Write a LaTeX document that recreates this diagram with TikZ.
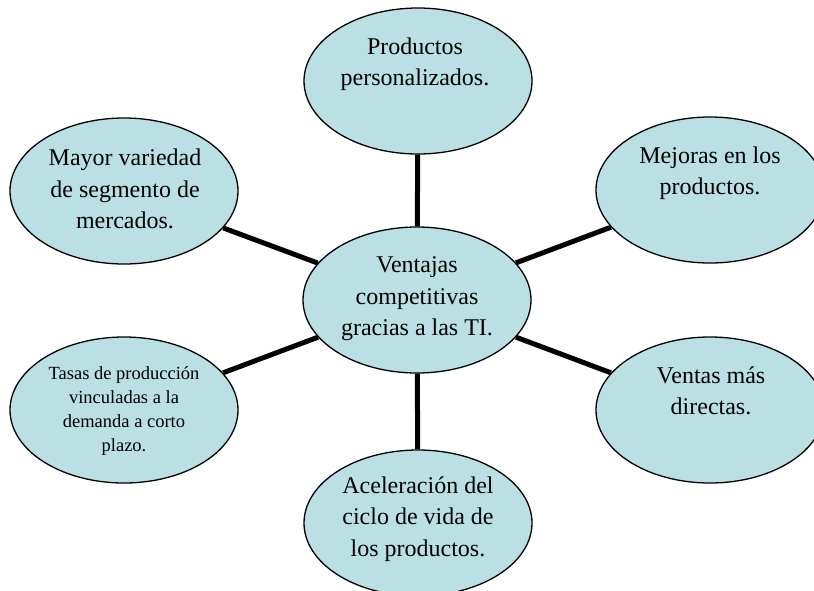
\documentclass[tikz,border=0pt]{standalone}
\usepackage{fontspec}
\setmainfont{Liberation Serif}
\usetikzlibrary{shapes.geometric,backgrounds}
\definecolor{bubble}{RGB}{186,224,227}
\tikzset{
  bubblebox/.style={ellipse, draw=black, line width=1.3pt, fill=bubble,
    minimum width=228pt, minimum height=146pt, inner sep=0pt},
  bigtext/.style={align=center, inner sep=0pt, font=\fontsize{24}{31.5}\selectfont},
  smalltext/.style={align=center, inner sep=0pt, font=\fontsize{18.5}{24}\selectfont},
  spoke/.style={line width=5pt, black}
}
\begin{document}
\begin{tikzpicture}[x=1pt,y=-1pt]
\path[use as bounding box] (0,0) rectangle (814,590);

\node[bubblebox] (c)  at (417,300) {};
\node[bubblebox] (t)  at (418,81)  {};
\node[bubblebox] (b)  at (418,523) {};
\node[bubblebox] (tl) at (124,191) {};
\node[bubblebox] (l)  at (124,410) {};
\node[bubblebox] (tr) at (710,190) {};
\node[bubblebox] (r)  at (710,410) {};

\begin{pgfonlayer}{background}
\draw[spoke] (c) -- (t);
\draw[spoke] (c) -- (b);
\draw[spoke] (c) -- (tl);
\draw[spoke] (c) -- (l);
\draw[spoke] (c) -- (tr);
\draw[spoke] (c) -- (r);
\end{pgfonlayer}

\node[bigtext] (ct)  at (417,299) {Ventajas\\competitivas\\gracias a las TI.};
\node[bigtext] (tt)  at (415,64)  {Productos\\personalizados.};
\node[bigtext] (bt)  at (418,519) {Aceleración del\\ciclo de vida de\\los productos.};
\node[bigtext] (tlt) at (125,189) {Mayor variedad\\de segmento de\\mercados.};
\node[smalltext] (lt) at (124,411) {Tasas de producción\\vinculadas a la\\demanda a corto\\plazo.};
\node[bigtext] (trt) at (710,173) {Mejoras en los\\productos.};
\node[bigtext] (rt)  at (711,391) {Ventas más\\directas.};
\end{tikzpicture}
\end{document}
